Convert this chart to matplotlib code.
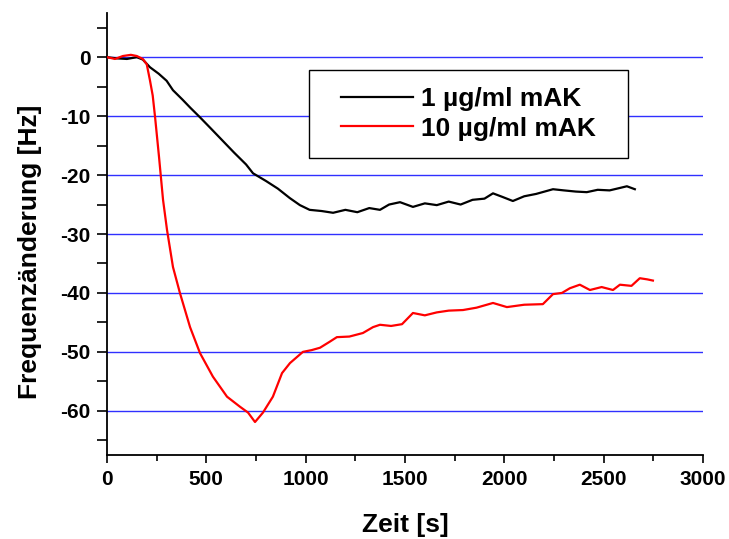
import matplotlib
matplotlib.use("Agg")
import matplotlib.pyplot as plt
from matplotlib.patches import Rectangle

plt.rcParams['font.family'] = ['Liberation Sans', 'DejaVu Sans']
plt.rcParams['font.weight'] = 'bold'
plt.rcParams['axes.unicode_minus'] = False

# Zeit [s] / Frequenzaenderung [Hz]
zeit_1 = [0, 50, 100, 150, 180, 216, 260, 300, 332, 380, 420, 468, 520, 580, 640,
          700, 735, 800, 860, 920, 971, 1020, 1080, 1138, 1200, 1260, 1320, 1374,
          1420, 1475, 1540, 1600, 1660, 1720, 1780, 1840, 1900, 1943, 1990, 2043,
          2100, 2160, 2245, 2300, 2360, 2415, 2470, 2530, 2580, 2617, 2657]
freq_1 = [0.0, -0.2, -0.3, 0.0, -0.4, -1.7, -2.8, -4.0, -5.6, -7.2, -8.6, -10.2, -12.0,
          -14.1, -16.2, -18.2, -19.7, -21.0, -22.3, -23.9, -25.1, -25.9, -26.1, -26.4,
          -25.9, -26.3, -25.6, -25.9, -25.0, -24.6, -25.4, -24.8, -25.1, -24.5, -25.0,
          -24.2, -24.0, -23.1, -23.7, -24.4, -23.6, -23.2, -22.4, -22.6, -22.8, -22.9,
          -22.5, -22.6, -22.2, -21.9, -22.4]

zeit_10 = [0, 40, 80, 120, 150, 180, 200, 216, 230, 242, 262, 282, 302, 332, 367,
           418, 468, 533, 604, 669, 710, 745, 785, 835, 881, 921, 986, 1030, 1072,
           1120, 1157, 1220, 1288, 1339, 1374, 1430, 1485, 1540, 1600, 1660, 1720,
           1792, 1860, 1943, 2013, 2100, 2194, 2245, 2290, 2330, 2380, 2431, 2490,
           2547, 2582, 2640, 2682, 2720, 2748]
freq_10 = [0.0, -0.3, 0.2, 0.4, 0.2, -0.3, -1.2, -3.9, -6.5, -10.2, -17.0, -24.2, -29.3,
           -35.6, -40.0, -45.8, -50.2, -54.2, -57.6, -59.3, -60.3, -61.9, -60.3, -57.6,
           -53.6, -51.9, -50.0, -49.7, -49.3, -48.3, -47.5, -47.4, -46.8, -45.8, -45.4,
           -45.6, -45.3, -43.4, -43.8, -43.3, -43.0, -42.9, -42.5, -41.7, -42.4, -42.0,
           -41.9, -40.2, -40.0, -39.2, -38.6, -39.5, -39.0, -39.5, -38.6, -38.8, -37.5,
           -37.7, -37.9]

fig = plt.figure(figsize=(7.29, 5.39), dpi=100)
ax = fig.add_axes([0.1468, 0.1558, 0.8175, 0.8201])

for y in range(0, -70, -10):
    ax.axhline(y, color='#3030ff', lw=1.0, zorder=1)

ax.plot(zeit_1, freq_1, color='black', lw=1.6, label='1 µg/ml mAK', zorder=3)
ax.plot(zeit_10, freq_10, color='red', lw=1.6, label='10 µg/ml mAK', zorder=3)

ax.set_xlim(0, 3000)
ax.set_ylim(-67.5, 7.5)
ax.set_xticks(range(0, 3001, 500))
ax.set_xticks(range(0, 3001, 250), minor=True)
ax.set_yticks(range(0, -61, -10))
ax.set_yticks(range(5, -66, -5), minor=True)
ax.spines['top'].set_visible(False)
ax.spines['right'].set_visible(False)
ax.spines['left'].set_linewidth(1.3)
ax.spines['bottom'].set_linewidth(1.3)
ax.tick_params(axis='x', which='major', length=6, width=1.2, labelsize=15, pad=5)
ax.tick_params(axis='x', which='minor', length=4, width=1.2)
ax.tick_params(axis='y', which='both', length=7, width=1.2, labelsize=15, pad=5)

ax.set_xlabel('Zeit [s]', fontsize=19, fontweight='bold', labelpad=17)
ax.set_ylabel('Frequenzänderung [Hz]', fontsize=19, fontweight='bold')
ax.yaxis.set_label_coords(-0.109, 0.46)

# Legendenrahmen
ax.add_patch(Rectangle((0.339, 0.672), 0.535, 0.199, transform=ax.transAxes,
                       facecolor='white', edgecolor='black', lw=1.0, zorder=4))
leg = ax.legend(loc='center', bbox_to_anchor=(0.6065, 0.7715), fontsize=19,
                frameon=False, handlelength=2.7, handletextpad=0.3,
                labelspacing=0.2, borderpad=0.2)
leg.set_zorder(5)
for t in leg.get_texts():
    t.set_fontweight('bold')

fig.savefig('out.png', dpi=100)
